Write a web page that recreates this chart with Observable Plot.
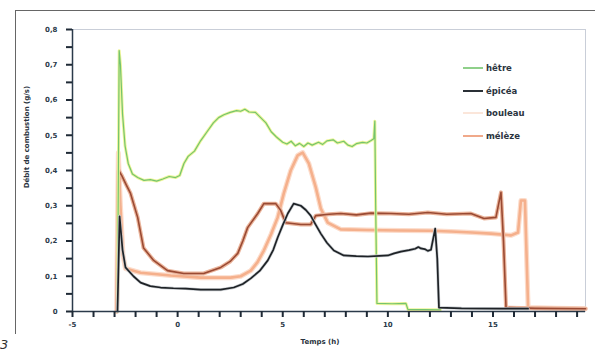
<!DOCTYPE html>
<html>
<head>
<meta charset="utf-8">
<script src="https://cdn.jsdelivr.net/npm/d3@7"></script>
<script src="https://cdn.jsdelivr.net/npm/@observablehq/plot@0.6"></script>
<style>
  html, body { margin: 0; padding: 0; background: #fff; }
  #wrap { position: relative; width: 595px; height: 354px; overflow: hidden; font-family: "DejaVu Sans", sans-serif; }
  #chart { position: absolute; left: 0; top: 0; }
  .outer-top { position: absolute; left: 15px; top: 10px; width: 580px; height: 0; border-top: 1px solid #666; }
  .outer-left { position: absolute; left: 15px; top: 10px; width: 0; height: 324px; border-left: 1px solid #666; }
  .ytitle { position: absolute; left: 27px; top: 137px; transform: translate(-50%, -50%) rotate(-90deg); font-size: 7px; font-weight: bold; color: #2b3440; white-space: nowrap; }
  .xtitle { position: absolute; left: 320px; top: 342px; transform: translate(-50%, -50%); font-size: 7px; font-weight: bold; color: #2b3440; white-space: nowrap; }
  .fig { position: absolute; left: 0px; top: 337px; font-size: 13px; font-style: italic; color: #333; }
  .legend { position: absolute; left: 463px; top: 57px; }
  .legend .item { position: relative; height: 22.5px; display: flex; align-items: center; }
  .legend .sw { width: 20px; height: 0; border-top: 2px solid; margin-right: 3px; }
  .legend .lab { font-size: 8.5px; font-weight: bold; color: #2b3440; }
</style>
</head>
<body>
<div id="wrap">
  <div id="chart"></div>
  <div class="outer-top"></div>
  <div class="outer-left"></div>
  <div class="ytitle">Débit de combustion (g/s)</div>
  <div class="xtitle">Temps (h)</div>
  <div class="fig">3</div>
  <div class="legend" id="legend"></div>
</div>
<script>
// ---- data ----
const seriesNames = ["hêtre", "épicéa", "bouleau", "mélèze"];
const seriesColors = ["#74c46e", "#1e2226", "#f5b08c", "#9a4a33"];
const legendColors = ["#8fd08a", "#2a3036", "#fbe6da", "#f0a98a"];

const xTicks = [-5, 0, 5, 10, 15];
const xTickLabels = ["-5", "0", "5", "10", "15"];
const yTicks = [0, 0.1, 0.2, 0.3, 0.4, 0.5, 0.6, 0.7, 0.8];
const yTickLabels = ["0", "0,1", "0,2", "0,3", "0,4", "0,5", "0,6", "0,7", "0,8"];
const xDomain = [-5, 19.4];
const yDomain = [0, 0.8];

const hetre = [[-2.86,0],[-2.78,0.74],[-2.72,0.70],[-2.62,0.56],[-2.5,0.47],[-2.35,0.42],[-2.15,0.39],[-1.9,0.38],[-1.6,0.372],[-1.3,0.374],[-1.0,0.37],[-0.7,0.376],[-0.4,0.383],[-0.1,0.38],[0.1,0.386],[0.3,0.42],[0.5,0.44],[0.8,0.455],[1.1,0.485],[1.4,0.51],[1.7,0.535],[1.95,0.55],[2.2,0.558],[2.5,0.565],[2.8,0.57],[3.0,0.568],[3.2,0.574],[3.4,0.566],[3.7,0.565],[3.95,0.55],[4.2,0.535],[4.45,0.51],[4.7,0.495],[5.0,0.48],[5.2,0.475],[5.4,0.483],[5.6,0.47],[5.8,0.477],[6.0,0.468],[6.2,0.478],[6.4,0.472],[6.7,0.48],[6.9,0.474],[7.1,0.484],[7.4,0.487],[7.6,0.478],[7.9,0.483],[8.1,0.472],[8.3,0.468],[8.5,0.476],[8.8,0.48],[9.0,0.478],[9.2,0.485],[9.33,0.49],[9.38,0.54],[9.42,0.3],[9.48,0.023],[10.2,0.022],[10.86,0.023],[10.95,0.006],[12.5,0.005]];

const epicea = [[-2.86,0],[-2.76,0.27],[-2.62,0.175],[-2.48,0.125],[-2.1,0.1],[-1.76,0.082],[-1.3,0.072],[-0.81,0.068],[-0.2,0.066],[0.38,0.065],[1.1,0.062],[2.05,0.062],[2.67,0.068],[3.1,0.078],[3.48,0.094],[3.9,0.115],[4.29,0.145],[4.55,0.175],[4.76,0.21],[5.0,0.245],[5.24,0.278],[5.52,0.306],[5.86,0.30],[6.1,0.288],[6.33,0.272],[6.55,0.248],[6.81,0.221],[7.1,0.195],[7.43,0.173],[7.9,0.159],[8.5,0.157],[9.05,0.156],[9.6,0.158],[10.0,0.159],[10.3,0.165],[10.62,0.170],[11.0,0.174],[11.3,0.178],[11.45,0.183],[11.57,0.179],[11.75,0.177],[11.9,0.172],[12.05,0.175],[12.25,0.235],[12.35,0.15],[12.43,0.011],[13.5,0.009],[15.38,0.008],[16.67,0.008]];

const bouleau = [[-2.9,0],[-2.82,0.45],[-2.72,0.3],[-2.6,0.16],[-2.48,0.122],[-1.76,0.11],[-0.33,0.102],[1.1,0.096],[2.52,0.096],[3.0,0.1],[3.48,0.116],[3.8,0.14],[4.1,0.173],[4.45,0.22],[4.76,0.267],[5.05,0.335],[5.38,0.40],[5.71,0.443],[5.95,0.451],[6.24,0.42],[6.57,0.352],[6.81,0.292],[7.14,0.252],[7.76,0.233],[9.0,0.231],[10.62,0.23],[12.0,0.229],[13.0,0.227],[14.0,0.224],[14.9,0.221],[15.86,0.216],[16.19,0.224],[16.33,0.315],[16.52,0.315],[16.67,0.011],[18.0,0.009],[19.4,0.008]];

const meleze = [[-2.88,0],[-2.8,0.4],[-2.65,0.385],[-2.45,0.36],[-2.24,0.335],[-1.9,0.267],[-1.62,0.18],[-1.14,0.145],[-0.48,0.116],[0.29,0.108],[1.24,0.108],[2.05,0.125],[2.5,0.142],[2.86,0.165],[3.1,0.2],[3.33,0.238],[3.81,0.278],[4.1,0.306],[4.67,0.306],[4.9,0.287],[5.14,0.252],[5.86,0.247],[6.33,0.247],[6.57,0.272],[7.2,0.276],[7.76,0.278],[8.5,0.274],[9.2,0.279],[10.14,0.278],[11.0,0.276],[11.9,0.281],[12.8,0.276],[13.95,0.278],[14.57,0.264],[15.14,0.267],[15.38,0.338],[15.5,0.2],[15.62,0.011],[17.0,0.009],[19.4,0.008]];

// ---- build ----
const toRows = (arr, name) => arr.map(([x, y]) => ({x, y, name}));
const rows = {
  "hêtre": toRows(hetre, "hêtre"),
  "épicéa": toRows(epicea, "épicéa"),
  "bouleau": toRows(bouleau, "bouleau"),
  "mélèze": toRows(meleze, "mélèze")
};
const minorX = d3.range(-5, 20, 1);
const minorY = d3.range(0, 17, 1).map(i => i * 0.05);
const axisColor = "#2b3a4a";

const W = 595, H = 354, mL = 72, mR = 10, mT = 29, mB = 43;

const chart = Plot.plot({
  width: W,
  height: H,
  marginLeft: mL,
  marginRight: mR,
  marginTop: mT,
  marginBottom: mB,
  x: {domain: xDomain, axis: null},
  y: {domain: yDomain, axis: null},
  style: {background: "transparent", fontFamily: "DejaVu Sans, sans-serif", fontSize: "7px"},
  marks: [
    Plot.frame({stroke: "#c9ced8"}),
    Plot.line(rows["bouleau"], {x: "x", y: "y", stroke: "#fcdccb", strokeWidth: 5}),
    Plot.line(rows["bouleau"], {x: "x", y: "y", stroke: seriesColors[2], strokeWidth: 2.6}),
    Plot.line(rows["mélèze"], {x: "x", y: "y", stroke: "#eab49b", strokeWidth: 4}),
    Plot.line(rows["mélèze"], {x: "x", y: "y", stroke: seriesColors[3], strokeWidth: 1.6}),
    Plot.line(rows["hêtre"], {x: "x", y: "y", stroke: "#eef59a", strokeWidth: 3}),
    Plot.line(rows["hêtre"], {x: "x", y: "y", stroke: seriesColors[0], strokeWidth: 1.2}),
    Plot.line(rows["épicéa"], {x: "x", y: "y", stroke: "#c8ccd0", strokeWidth: 3}),
    Plot.line(rows["épicéa"], {x: "x", y: "y", stroke: seriesColors[1], strokeWidth: 1.7}),
    Plot.ruleX([xDomain[0]], {stroke: axisColor, strokeWidth: 1.5}),
    Plot.ruleY([yDomain[0]], {stroke: axisColor, strokeWidth: 1.5}),
    // tick marks (Plot axis ticks)
    Plot.axisX(minorX, {anchor: "bottom", tickSize: 6, tickPadding: 0, tickFormat: null, text: null, label: null, stroke: "#1f2a36", strokeWidth: 2}),
    Plot.axisY(minorY, {anchor: "left", tickSize: 6, tickPadding: 0, tickFormat: null, text: null, label: null, stroke: "#1f2a36", strokeWidth: 2}),
    // tick labels
    Plot.axisX(xTicks, {anchor: "bottom", tickSize: 0, tickPadding: 11, tickFormat: d => xTickLabels[xTicks.indexOf(d)], fill: axisColor, fontWeight: "bold", label: null}),
    Plot.axisY(yTicks, {anchor: "left", tickSize: 0, tickPadding: 15, tickFormat: d => yTickLabels[yTicks.findIndex(t => Math.abs(t - d) < 1e-9)], fill: axisColor, fontWeight: "bold", label: null})
  ]
});
document.getElementById("chart").appendChild(chart);

const legend = document.getElementById("legend");
seriesNames.forEach((n, i) => {
  const item = document.createElement("div");
  item.className = "item";
  const sw = document.createElement("div");
  sw.className = "sw";
  sw.style.borderTopColor = legendColors[i];
  const lab = document.createElement("span");
  lab.className = "lab";
  lab.textContent = n;
  item.appendChild(sw);
  item.appendChild(lab);
  legend.appendChild(item);
});
</script>
</body>
</html>
